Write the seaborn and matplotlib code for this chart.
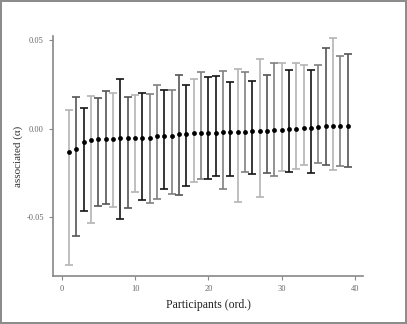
import matplotlib
matplotlib.use('Agg')
import matplotlib.pyplot as plt
import seaborn as sns
import pandas as pd

# participant estimates, ordered
participant = list(range(1, 40))
estimate = [-0.0132, -0.0115, -0.0073, -0.0062, -0.0056, -0.0056, -0.0056, -0.0051, -0.0051, -0.0049,
            -0.0049, -0.0049, -0.0040, -0.0038, -0.0038, -0.0028, -0.0028, -0.0024, -0.0021, -0.0021,
            -0.0021, -0.0017, -0.0017, -0.0017, -0.0017, -0.0011, -0.0011, -0.0011, -0.0006, -0.0006,
            -0.0002, -0.0002, 0.0006, 0.0006, 0.0011, 0.0015, 0.0015, 0.0019, 0.0019]
upper = [0.0109, 0.0183, 0.0117, 0.0185, 0.0177, 0.0213, 0.0202, 0.0281, 0.0179, 0.0190,
         0.0202, 0.0196, 0.0250, 0.0217, 0.0219, 0.0307, 0.0247, 0.0281, 0.0320, 0.0292,
         0.0298, 0.0326, 0.0264, 0.0341, 0.0324, 0.0273, 0.0394, 0.0303, 0.0375, 0.0375,
         0.0331, 0.0371, 0.0360, 0.0331, 0.0360, 0.0459, 0.0512, 0.0411, 0.0425]
lower = [-0.0770, -0.0606, -0.0463, -0.0531, -0.0437, -0.0426, -0.0439, -0.0510, -0.0448, -0.0354,
         -0.0401, -0.0420, -0.0397, -0.0337, -0.0367, -0.0373, -0.0322, -0.0298, -0.0284, -0.0281,
         -0.0264, -0.0337, -0.0264, -0.0414, -0.0245, -0.0256, -0.0386, -0.0249, -0.0266, -0.0239,
         -0.0245, -0.0228, -0.0205, -0.0247, -0.0190, -0.0205, -0.0230, -0.0211, -0.0215]
# grey level of each interval
shade = ['light', 'dark', 'black', 'light', 'dark', 'dark', 'light', 'black', 'dark', 'light',
         'black', 'grey', 'grey', 'black', 'grey', 'dark', 'black', 'light', 'grey', 'black',
         'black', 'grey', 'black', 'light', 'grey', 'black', 'light', 'dark', 'grey', 'light',
         'black', 'light', 'light', 'black', 'grey', 'dark', 'light', 'grey', 'dark']
shade_colors = {'black': '#151515', 'dark': '#555555', 'grey': '#808080', 'light': '#b4b4b4'}

df = pd.DataFrame({'participant': participant, 'estimate': estimate,
                   'upper': upper, 'lower': lower, 'shade': shade})

sns.set_style('ticks')
plt.rcParams['font.family'] = ['Liberation Serif', 'DejaVu Serif']

fig = plt.figure(figsize=(4.07, 3.24), dpi=100)
fig.patch.set_edgecolor('#8c8c8c')
fig.patch.set_linewidth(1.5)
ax = fig.add_axes([0.130, 0.148, 0.762, 0.741])

for _, row in df.iterrows():
    ax.errorbar(row['participant'], row['estimate'],
                yerr=[[row['estimate'] - row['lower']], [row['upper'] - row['estimate']]],
                fmt='none', ecolor=shade_colors[row['shade']], elinewidth=1.2,
                capsize=3, capthick=1.2, zorder=2)

sns.scatterplot(data=df, x='participant', y='estimate', color='black', s=12,
                edgecolor='black', linewidth=0, ax=ax, zorder=3)

ax.set_xlim(-1.2, 41.1)
ax.set_ylim(-0.0831, 0.0525)
ax.set_xticks([0, 10, 20, 30, 40])
ax.set_yticks([-0.05, 0.0, 0.05])
ax.set_yticklabels(['-0.05', '0.00', '0.05'])
ax.set_xlabel('Participants (ord.)', fontsize=8.5, color='#222222')
ax.set_ylabel('associated (α)', fontsize=8, color='#333333', labelpad=2)
ax.tick_params(labelsize=6, colors='#888888', labelcolor='#666666', length=3, width=0.8)
for side in ['top', 'right']:
    ax.spines[side].set_visible(False)
for side in ['left', 'bottom']:
    ax.spines[side].set_color('#888888')
    ax.spines[side].set_linewidth(1.2)

fig.savefig('out.png', dpi=100)
plt.close(fig)
